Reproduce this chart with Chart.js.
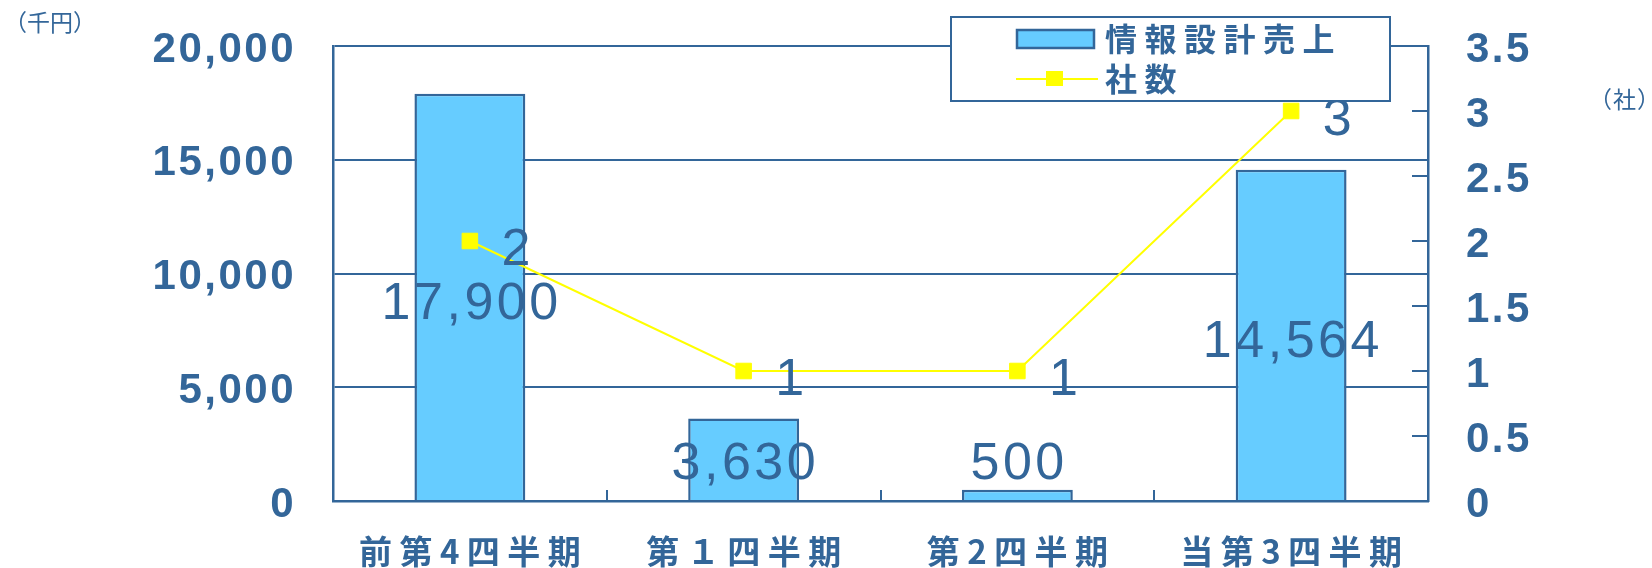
<!DOCTYPE html>
<html lang="ja">
<head>
<meta charset="UTF-8">
<title>情報設計売上</title>
<script src="https://cdn.jsdelivr.net/npm/chart.js@4.4.1/dist/chart.umd.min.js"></script>
<style>
  html, body { margin: 0; padding: 0; background: #fff; }
  #chart { display: block; }
</style>
</head>
<body>
<canvas id="chart" width="1652" height="568"></canvas>
<script>
// quarterly figures
const quarters = ['前第4四半期', '第１四半期', '第2四半期', '当第3四半期'];
const sales = [17900, 3630, 500, 14564];   // 千円
const companies = [2, 1, 1, 3];            // 社
const salesTicks = [0, 5000, 10000, 15000, 20000];
const companyTicks = [0, 0.5, 1, 1.5, 2, 2.5, 3, 3.5];
const seriesNames = ['情報設計売上', '社数'];

const BLUE = '#336699';
const BAR_FILL = '#66CCFF';
const LINE = '#FFFF00';
const NUM_FONT = '"Liberation Sans", Arial, sans-serif';
const JP_FONT = '"Noto Sans CJK JP", "Noto Sans", sans-serif';

// draws text one glyph at a time so the spacing between characters can be widened
function spacedText(ctx, text, x, y, spacing, align) {
  const chars = Array.from(text);
  const widths = chars.map(ch => ctx.measureText(ch).width);
  const total = widths.reduce((a, b) => a + b, 0) + spacing * (chars.length - 1);
  let cx = x;
  if (align === 'center') cx = x - total / 2;
  else if (align === 'right') cx = x - total;
  ctx.textAlign = 'left';
  chars.forEach((ch, i) => {
    ctx.fillText(ch, cx, y);
    cx += widths[i] + spacing;
  });
}

// keep the value axes from pushing the plot area down
function fixedWidth(w) {
  return s => {
    s.width = w;
    s.paddingTop = 0;
    s.paddingBottom = 0;
  };
}

const decor = {
  id: 'decor',
  beforeDraw(chart) {
    // axis numbers are a little wider set than the plain font
    chart.ctx.letterSpacing = '2.5px';
  },
  beforeDatasetsDraw(chart) {
    chart.ctx.letterSpacing = '0px';
  },
  afterDatasetsDraw(chart) {
    const { ctx, chartArea } = chart;
    const xs = chart.scales.x, ys = chart.scales.y, ys1 = chart.scales.y1;
    ctx.save();
    ctx.strokeStyle = BLUE;
    ctx.lineWidth = 2;

    // inward tick marks on the right axis
    ys1.ticks.forEach(t => {
      const y = ys1.getPixelForValue(t.value);
      ctx.beginPath();
      ctx.moveTo(chartArea.right - 16, y);
      ctx.lineTo(chartArea.right, y);
      ctx.stroke();
    });

    // small ticks between categories
    for (let i = 0; i < quarters.length - 1; i++) {
      const x = Math.round((xs.getPixelForValue(i) + xs.getPixelForValue(i + 1)) / 2);
      ctx.beginPath();
      ctx.moveTo(x, chartArea.bottom);
      ctx.lineTo(x, chartArea.bottom - 11);
      ctx.stroke();
    }

    // value labels
    ctx.fillStyle = BLUE;
    ctx.font = '52px ' + NUM_FONT;
    ctx.textBaseline = 'alphabetic';
    const base = ys.getPixelForValue(0);
    sales.forEach((v, i) => {
      const top = ys.getPixelForValue(v);
      const y = Math.min((top + base) / 2 + 22, base - 22);
      spacedText(ctx, v.toLocaleString('en-US'), xs.getPixelForValue(i), y, 3.5, 'center');
    });
    companies.forEach((v, i) => {
      const x = xs.getPixelForValue(i) + 46;
      const y = ys1.getPixelForValue(v) + 24;
      spacedText(ctx, String(v), x, y, 0, 'center');
    });
    ctx.restore();
  },
  afterDraw(chart) {
    const { ctx } = chart;
    const xs = chart.scales.x;
    ctx.save();
    ctx.fillStyle = BLUE;
    ctx.textBaseline = 'middle';

    // category names
    ctx.font = 'bold 33px ' + JP_FONT;
    quarters.forEach((q, i) => spacedText(ctx, q, xs.getPixelForValue(i), 551, 7.5, 'center'));

    // units
    ctx.font = '23px ' + JP_FONT;
    spacedText(ctx, '（千円）', 4, 22, 0, 'left');
    spacedText(ctx, '（社）', 1589, 99, 1, 'left');

    // legend
    ctx.fillStyle = '#fff';
    ctx.fillRect(951, 17, 439, 84);
    ctx.strokeStyle = BLUE;
    ctx.lineWidth = 2;
    ctx.strokeRect(951, 17, 439, 84);

    ctx.fillStyle = BAR_FILL;
    ctx.fillRect(1017, 30, 77, 18);
    ctx.lineWidth = 2.5;
    ctx.strokeRect(1017, 30, 77, 18);

    ctx.strokeStyle = LINE;
    ctx.lineWidth = 2;
    ctx.beginPath();
    ctx.moveTo(1016, 79);
    ctx.lineTo(1098, 79);
    ctx.stroke();
    ctx.fillStyle = LINE;
    ctx.fillRect(1046, 71, 17, 15);

    ctx.fillStyle = BLUE;
    ctx.font = 'bold 32px ' + JP_FONT;
    spacedText(ctx, seriesNames[0], 1105, 39, 7.5, 'left');
    spacedText(ctx, seriesNames[1], 1105, 79, 7.5, 'left');
    ctx.restore();
  }
};

const ctx = document.getElementById('chart').getContext('2d');
new Chart(ctx, {
  data: {
    labels: quarters,
    datasets: [
      {
        type: 'line',
        label: seriesNames[1],
        data: companies,
        yAxisID: 'y1',
        order: 0,
        borderColor: LINE,
        borderWidth: 2,
        tension: 0,
        pointStyle: 'rect',
        pointRadius: 11,
        pointBackgroundColor: LINE,
        pointBorderColor: LINE,
        pointBorderWidth: 1
      },
      {
        type: 'bar',
        label: seriesNames[0],
        data: sales,
        yAxisID: 'y',
        order: 1,
        backgroundColor: BAR_FILL,
        borderColor: BLUE,
        borderWidth: 2.5,
        categoryPercentage: 1,
        barPercentage: 0.405
      }
    ]
  },
  options: {
    responsive: false,
    animation: false,
    events: [],
    layout: { padding: { top: 46 } },
    plugins: {
      legend: { display: false },
      tooltip: { enabled: false }
    },
    scales: {
      x: {
        ticks: { display: false },
        grid: { display: false },
        border: { color: BLUE, width: 2.5 },
        afterFit: s => { s.height = 67; }
      },
      y: {
        position: 'left',
        min: salesTicks[0],
        max: salesTicks[salesTicks.length - 1],
        afterBuildTicks: s => { s.ticks = salesTicks.map(v => ({ value: v })); },
        ticks: {
          color: BLUE,
          font: { family: NUM_FONT, size: 42, weight: 'bold' },
          padding: 37,
          labelOffset: 4,
          callback: v => v.toLocaleString('en-US')
        },
        grid: { color: BLUE, lineWidth: 2, drawTicks: false, tickLength: 0 },
        border: { color: BLUE, width: 2.5 },
        afterFit: fixedWidth(333)
      },
      y1: {
        position: 'right',
        min: companyTicks[0],
        max: companyTicks[companyTicks.length - 1],
        afterBuildTicks: s => { s.ticks = companyTicks.map(v => ({ value: v })); },
        ticks: {
          color: BLUE,
          font: { family: NUM_FONT, size: 42, weight: 'bold' },
          padding: 38,
          labelOffset: 4,
          callback: v => String(v)
        },
        grid: { display: false, drawTicks: false, tickLength: 0 },
        border: { display: true, color: BLUE, width: 2.5 },
        afterFit: fixedWidth(224)
      }
    }
  },
  plugins: [decor]
});
</script>
</body>
</html>
